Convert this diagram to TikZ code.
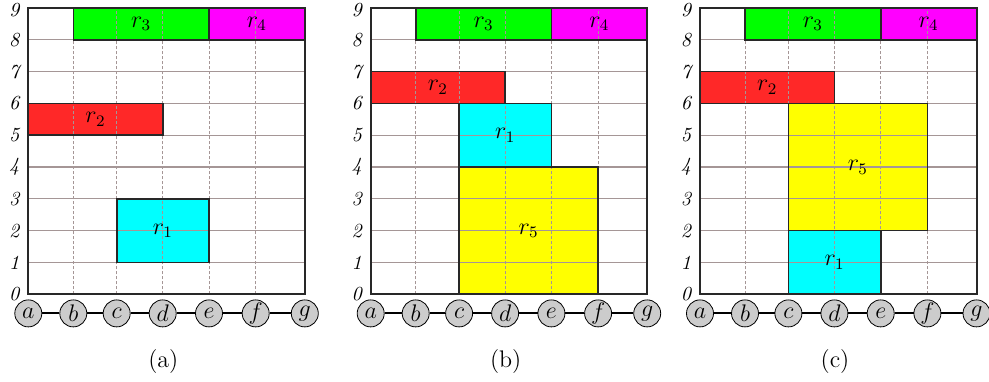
\documentclass[tikz,border=0pt]{standalone}
\definecolor{rred}{RGB}{255,40,40}
\definecolor{rgreen}{RGB}{0,255,0}
\definecolor{rmag}{RGB}{255,0,255}
\definecolor{rcyan}{RGB}{0,255,255}
\definecolor{ryel}{RGB}{255,255,0}
\definecolor{gridc}{RGB}{165,150,150}
\definecolor{framec}{RGB}{40,40,40}
\tikzset{
 vert/.style={gridc, line width=0.35pt, dash pattern=on 1.5pt off 1pt},
 horz/.style={gridc, line width=0.6pt},
 frm/.style={framec, line width=1pt},
 rbox/.style={draw=framec, line width=0.8pt},
 vtx/.style={circle, draw=black, line width=0.4pt, fill=gray!40, minimum size=13.5pt, inner sep=0pt, font=\large},
 edg/.style={black, line width=1pt},
 ylab/.style={anchor=center, inner sep=0pt, font=\itshape},
 rlab/.style={inner sep=0pt, font=\large},
 capt/.style={anchor=base, inner sep=0pt, font=\large},
}
\def\ca{0}\def\cb{45}\def\cc{88.4}\def\cd{134.4}\def\ce{180.7}\def\cf{227.4}\def\cg{276.5}
\newcommand\panel[3]{%
 \foreach \xa/\ya/\xb/\yb/\col/\lab in {#3} \fill[\col] (\xa,\ya) rectangle (\xb,\yb);
 \foreach \k in {1,...,8} \draw[horz] (\ca,\k) -- (\cg,\k);
 \foreach \c in {\cb,\cc,\cd,\ce,\cf} \draw[vert] (\c,0) -- (\c,9);
 \foreach \xa/\ya/\xb/\yb/\col/\lab in {#3} {
   \draw[rbox] (\xa,\ya) rectangle (\xb,\yb);
   \node[rlab] (#1r\lab) at ({(\xa+\xb)/2},{(\ya+\yb)/2}) {$r_{\lab}$};
 }
 \draw[frm] (\ca,0) rectangle (\cg,9);
 \foreach \k in {0,...,8} \node[ylab] (#1y\k) at (-14,\k) {\k};
 \node[ylab] (#1y9) at (-14,8.95) {9};
 \node[vtx] (#1a) at (\ca,-0.6) {$a$};
 \node[vtx] (#1b) at (\cb,-0.6) {$b$};
 \node[vtx] (#1c) at (\cc,-0.6) {$c$};
 \node[vtx] (#1d) at (\cd,-0.6) {$d$};
 \node[vtx] (#1e) at (\ce,-0.6) {$e$};
 \node[vtx] (#1f) at (\cf,-0.6) {$f$};
 \node[vtx] (#1g) at (\cg,-0.6) {$g$};
 \draw[edg] (#1a) -- (#1b) (#1b) -- (#1c) (#1c) -- (#1d) (#1d) -- (#1e) (#1e) -- (#1f) (#1f) -- (#1g);
 \node[capt] (#1cap) at (135,-2.29) {(#2)};
}
\begin{document}
\begin{tikzpicture}[x=0.5pt,y=-0.5pt]
\useasboundingbox (0,0) rectangle (989,381);
\begin{scope}[shift={(28.3,294.3)}, x=0.5pt, y=15.905pt]
\panel{A}{a}{\cb/8/\ce/9/rgreen/3, \ce/8/\cg/9/rmag/4, \ca/5/\cd/6/rred/2, \cc/1/\ce/3/rcyan/1}
\end{scope}
\begin{scope}[shift={(370.7,294.3)}, x=0.5pt, y=15.905pt]
\panel{B}{b}{\cb/8/\ce/9/rgreen/3, \ce/8/\cg/9/rmag/4, \ca/6/\cd/7/rred/2, \cc/4/\ce/6/rcyan/1, \cc/0/\cf/4/ryel/5}
\end{scope}
\begin{scope}[shift={(700,294.3)}, x=0.5pt, y=15.905pt]
\panel{C}{c}{\cb/8/\ce/9/rgreen/3, \ce/8/\cg/9/rmag/4, \ca/6/\cd/7/rred/2, \cc/2/\cf/6/ryel/5, \cc/0/\ce/2/rcyan/1}
\end{scope}
\end{tikzpicture}
\end{document}
